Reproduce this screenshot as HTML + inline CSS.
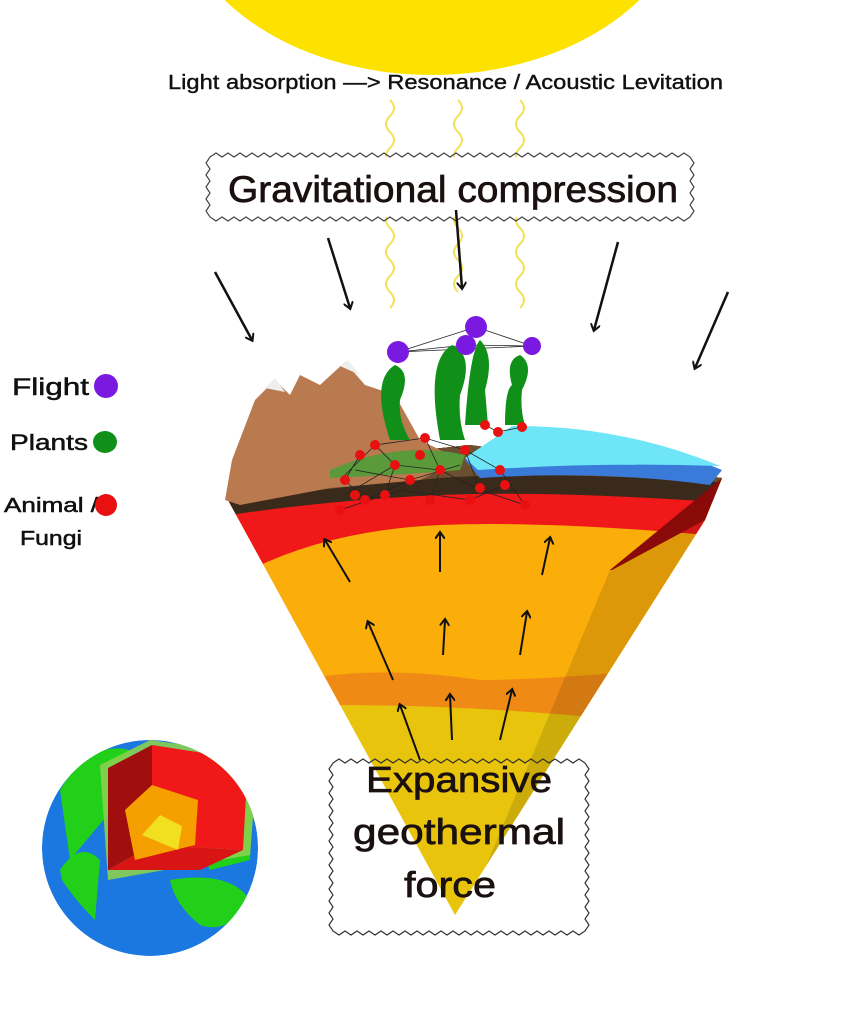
<!DOCTYPE html>
<html><head><meta charset="utf-8"><style>
html,body{margin:0;padding:0;background:#fff;}
svg{display:block;}
text{font-family:"Liberation Sans",sans-serif;}
</style></head><body>
<svg width="860" height="1024" viewBox="0 0 860 1024" xmlns="http://www.w3.org/2000/svg">
<defs>
<marker id="ah" markerWidth="10" markerHeight="10" refX="6" refY="5" orient="auto" markerUnits="userSpaceOnUse"><path d="M0,0 L7,5 L0,10" fill="none" stroke="#111" stroke-width="2"/></marker>
<clipPath id="cone"><path d="M228,500 L232,470 L470,445 L722,478 L705,520 L455,915 Z"/></clipPath>
<clipPath id="globe"><circle cx="150" cy="848" r="108"/></clipPath>
</defs>
<rect width="860" height="1024" fill="#fff"/>
<ellipse cx="432" cy="-110" rx="258" ry="185" fill="#fde200"/>
<text x="168" y="89" font-size="20" textLength="555" lengthAdjust="spacingAndGlyphs" fill="#111" stroke="#111" stroke-width="0.4">Light absorption —&gt; Resonance / Acoustic Levitation</text>
<g fill="none" stroke="#f2e25a" stroke-width="2">
<path d="M390,100 q8,8 0,16 q-8,8 0,16 q8,8 0,16 q-8,8 0,16 q8,8 0,16 q-8,8 0,16 q8,8 0,16 q-8,8 0,16 q8,8 0,16 q-8,8 0,16 q8,8 0,16 q-8,8 0,16 q8,8 0,16"/>
<path d="M458,100 q8,8 0,16 q-8,8 0,16 q8,8 0,16 q-8,8 0,16 q8,8 0,16 q-8,8 0,16 q8,8 0,16 q-8,8 0,16 q8,8 0,16 q-8,8 0,16 q8,8 0,16 q-8,8 0,16"/>
<path d="M520,100 q8,8 0,16 q-8,8 0,16 q8,8 0,16 q-8,8 0,16 q8,8 0,16 q-8,8 0,16 q8,8 0,16 q-8,8 0,16 q8,8 0,16 q-8,8 0,16 q8,8 0,16 q-8,8 0,16 q8,8 0,16"/>
</g>
<rect x="210" y="157" width="480" height="60" fill="#fff"/>
<path d="M210,157
l6,-4 6,4 6,-4 6,4 6,-4 6,4 6,-4 6,4 6,-4 6,4 6,-4 6,4 6,-4 6,4 6,-4 6,4 6,-4 6,4 6,-4 6,4
l6,-4 6,4 6,-4 6,4 6,-4 6,4 6,-4 6,4 6,-4 6,4 6,-4 6,4 6,-4 6,4 6,-4 6,4 6,-4 6,4 6,-4 6,4
l6,-4 6,4 6,-4 6,4 6,-4 6,4 6,-4 6,4 6,-4 6,4 6,-4 6,4 6,-4 6,4 6,-4 6,4 6,-4 6,4 6,-4 6,4
l6,-4 6,4 6,-4 6,4 6,-4 6,4 6,-4 6,4 6,-4 6,4 6,-4 6,4 6,-4 6,4 6,-4 6,4 6,-4 6,4 6,-4 6,4
l4,6 -4,6 4,6 -4,6 4,6 -4,6 4,6 -4,6 4,6 -4,6
l-6,4 -6,-4 -6,4 -6,-4 -6,4 -6,-4 -6,4 -6,-4 -6,4 -6,-4 -6,4 -6,-4 -6,4 -6,-4 -6,4 -6,-4 -6,4 -6,-4 -6,4 -6,-4
l-6,4 -6,-4 -6,4 -6,-4 -6,4 -6,-4 -6,4 -6,-4 -6,4 -6,-4 -6,4 -6,-4 -6,4 -6,-4 -6,4 -6,-4 -6,4 -6,-4 -6,4 -6,-4
l-6,4 -6,-4 -6,4 -6,-4 -6,4 -6,-4 -6,4 -6,-4 -6,4 -6,-4 -6,4 -6,-4 -6,4 -6,-4 -6,4 -6,-4 -6,4 -6,-4 -6,4 -6,-4
l-6,4 -6,-4 -6,4 -6,-4 -6,4 -6,-4 -6,4 -6,-4 -6,4 -6,-4 -6,4 -6,-4 -6,4 -6,-4 -6,4 -6,-4 -6,4 -6,-4 -6,4 -6,-4
l-4,-6 4,-6 -4,-6 4,-6 -4,-6 4,-6 -4,-6 4,-6 -4,-6 4,-6 Z" fill="none" stroke="#444" stroke-width="1.2"/>
<text x="228" y="202" font-size="37" textLength="450" lengthAdjust="spacingAndGlyphs" fill="#1a1010" stroke="#1a1010" stroke-width="0.7">Gravitational compression</text>
<g stroke="#111" stroke-width="2.5" fill="none" marker-end="url(#ah)">
<line x1="215" y1="272" x2="252" y2="340"/>
<line x1="328" y1="238" x2="350" y2="308"/>
<line x1="456" y1="210" x2="462" y2="288"/>
<line x1="618" y1="242" x2="594" y2="330"/>
<line x1="728" y1="292" x2="695" y2="368"/>
</g>
<g clip-path="url(#cone)">
<rect x="200" y="400" width="560" height="540" fill="#e8c40c"/>
<path d="M200,400 H760 V740 Q560,705 330,705 L200,720 Z" fill="#ef8a14"/>
<path d="M200,400 H760 V660 Q560,680 480,680 Q380,665 300,680 L200,690 Z" fill="#fbad0a"/>
<path d="M200,400 H760 V540 Q560,520 440,525 Q330,530 250,570 L200,580 Z" fill="#f01818"/>
<path d="M200,400 H760 V505 Q560,490 440,495 Q330,500 230,515 L200,520 Z" fill="#3a2a1c"/>
<path d="M200,400 H760 V485 Q560,470 440,478 Q330,488 230,500 Z" fill="#6a5030"/>
<path d="M610,570 L722,478 L722,940 L455,940 Z" fill="#000" opacity="0.12"/>
<path d="M610,570 L722,478 L705,520 L612,570 Z" fill="#8a0a0a"/>
</g>
<path d="M465,460 L510,428 Q620,428 722,470 L710,485 Q600,470 480,478 Z" fill="#3a7ad8"/>
<path d="M465,458 L512,426 Q620,425 720,466 Q600,462 478,470 Z" fill="#6ee6f7"/>
<path d="M225,500 L232,460 L255,400 L275,380 L290,395 L300,375 L320,385 L345,362 L365,385 L395,395 L420,440 L460,460 L420,480 L330,488 L240,505 Z" fill="#b87a4e"/>
<path d="M265,388 L275,378 L285,392 Z M340,366 L348,360 L360,375 Z" fill="#eee"/>
<path d="M330,470 Q400,440 465,455 L460,470 Q400,475 330,478 Z" fill="#5a9a3a"/>
<g stroke="#222" stroke-width="0.8" fill="none">
<path d="M340,480 L375,445 L425,438 L465,450 L500,470 L525,505 M345,495 L395,465 L440,470 L480,490 L525,505 M355,470 L410,480 L460,465 M340,510 L400,490 L470,500 L505,485 M375,445 L395,465 L385,495 M425,438 L440,470 L430,500 M465,450 L480,490 M360,455 L345,480 L365,500 L410,480 M485,425 L498,432 L522,427 M398,352 L476,327 L532,346 L398,352 L466,345 L532,346 M476,327 L466,345"/>
</g>
<g fill="#109018">
<path d="M390,440 Q370,380 395,365 Q412,372 400,400 Q398,420 410,440 Z"/>
<path d="M440,440 Q425,360 452,345 Q475,355 460,395 Q458,420 465,440 Z"/>
<path d="M465,425 Q470,350 480,340 Q495,355 485,390 L488,425 Z"/>
<path d="M505,425 Q505,390 512,385 Q505,360 520,355 Q535,365 522,390 Q520,410 525,425 Z"/>
</g>
<g fill="#e81010">
<circle cx="375" cy="445" r="5"/><circle cx="425" cy="438" r="5"/><circle cx="360" cy="455" r="5"/><circle cx="395" cy="465" r="5"/><circle cx="410" cy="480" r="5"/><circle cx="440" cy="470" r="5"/><circle cx="465" cy="450" r="5"/><circle cx="345" cy="480" r="5"/><circle cx="355" cy="495" r="5"/><circle cx="385" cy="495" r="5"/><circle cx="430" cy="500" r="5"/><circle cx="470" cy="500" r="5"/><circle cx="480" cy="488" r="5"/><circle cx="500" cy="470" r="5"/><circle cx="505" cy="485" r="5"/><circle cx="525" cy="505" r="5"/><circle cx="340" cy="510" r="5"/><circle cx="365" cy="500" r="5"/><circle cx="485" cy="425" r="5"/><circle cx="498" cy="432" r="5"/><circle cx="522" cy="427" r="5"/><circle cx="420" cy="455" r="5"/>
</g>
<g fill="#7a1ae0">
<circle cx="398" cy="352" r="11"/><circle cx="476" cy="327" r="11"/><circle cx="466" cy="345" r="10"/><circle cx="532" cy="346" r="9"/>
</g>
<g stroke="#111" stroke-width="2" fill="none" marker-end="url(#ah)">
<line x1="350" y1="582" x2="325" y2="540"/>
<line x1="440" y1="572" x2="440" y2="533"/>
<line x1="542" y1="575" x2="550" y2="538"/>
<line x1="393" y1="680" x2="368" y2="622"/>
<line x1="443" y1="655" x2="445" y2="620"/>
<line x1="520" y1="655" x2="527" y2="612"/>
<line x1="420" y1="760" x2="400" y2="705"/>
<line x1="452" y1="740" x2="450" y2="695"/>
<line x1="500" y1="740" x2="512" y2="690"/>
</g>
<path d="M333,763
l6,-4 6,4 6,-4 6,4 6,-4 6,4 6,-4 6,4 6,-4 6,4 6,-4 6,4 6,-4 6,4 6,-4 6,4 6,-4 6,4 6,-4 6,4
l6,-4 6,4 6,-4 6,4 6,-4 6,4 6,-4 6,4 6,-4 6,4 6,-4 6,4 6,-4 6,4 6,-4 6,4 6,-4 6,4 6,-4 6,4
l6,-4 6,4
l4,6 -4,6 4,6 -4,6 4,6 -4,6 4,6 -4,6 4,6 -4,6 4,6 -4,6 4,6 -4,6
l4,6 -4,6 4,6 -4,6 4,6 -4,6 4,6 -4,6 4,6 -4,6 4,6 -4,6 4,6 -4,6
l-6,4 -6,-4 -6,4 -6,-4 -6,4 -6,-4 -6,4 -6,-4 -6,4 -6,-4 -6,4 -6,-4 -6,4 -6,-4 -6,4 -6,-4 -6,4 -6,-4 -6,4 -6,-4
l-6,4 -6,-4 -6,4 -6,-4 -6,4 -6,-4 -6,4 -6,-4 -6,4 -6,-4 -6,4 -6,-4 -6,4 -6,-4 -6,4 -6,-4 -6,4 -6,-4 -6,4 -6,-4
l-6,4 -6,-4
l-4,-6 4,-6 -4,-6 4,-6 -4,-6 4,-6 -4,-6 4,-6 -4,-6 4,-6 -4,-6 4,-6 -4,-6 4,-6
l-4,-6 4,-6 -4,-6 4,-6 -4,-6 4,-6 -4,-6 4,-6 -4,-6 4,-6 -4,-6 4,-6 -4,-6 4,-6 Z" fill="none" stroke="#333" stroke-width="1.2"/>
<g font-size="36" fill="#1a1010" stroke="#1a1010" stroke-width="0.7">
<text x="366" y="792" textLength="186" lengthAdjust="spacingAndGlyphs">Expansive</text>
<text x="353" y="844" textLength="212" lengthAdjust="spacingAndGlyphs">geothermal</text>
<text x="404" y="897" textLength="92" lengthAdjust="spacingAndGlyphs">force</text>
</g>
<g fill="#111" stroke="#111" stroke-width="0.5">
<text x="12" y="395" font-size="24" textLength="77" lengthAdjust="spacingAndGlyphs">Flight</text>
<text x="10" y="450" font-size="22" textLength="78" lengthAdjust="spacingAndGlyphs">Plants</text>
<text x="4" y="512" font-size="20" textLength="94" lengthAdjust="spacingAndGlyphs">Animal /</text>
<text x="20" y="545" font-size="20" textLength="62" lengthAdjust="spacingAndGlyphs">Fungi</text>
</g>
<circle cx="106" cy="386" r="12" fill="#7a1ae0"/>
<ellipse cx="105" cy="442" rx="12" ry="11" fill="#109018"/>
<circle cx="106" cy="505" r="11" fill="#e81010"/>
<g clip-path="url(#globe)">
<circle cx="150" cy="848" r="108" fill="#1a78e0"/>
<path d="M60,790 Q90,740 130,750 L120,800 Q95,830 70,860 Z" fill="#22d01a"/>
<path d="M60,870 Q80,840 100,860 L95,920 Q75,900 62,880 Z" fill="#22d01a"/>
<path d="M170,880 Q230,870 250,900 Q230,935 200,925 Q175,905 170,880 Z" fill="#22d01a"/>
<path d="M155,752 L255,755 L250,860 L210,870 Z" fill="#22d01a"/>
<path d="M100,765 L150,740 L258,755 L250,855 L108,880 Z" fill="#8ad050" opacity="0.9"/>
<path d="M108,768 L152,745 L152,845 L108,870 Z" fill="#a00e0e"/>
<path d="M152,745 L248,760 L243,850 L152,845 Z" fill="#f01818"/>
<path d="M108,870 L152,845 L243,850 L200,870 Z" fill="#d81414"/>
<path d="M125,810 L152,785 L198,800 L195,845 L135,860 Z" fill="#f5a000"/>
<path d="M142,835 L160,815 L182,826 L178,850 Z" fill="#f0e020"/>
</g>
</svg>
</body></html>
